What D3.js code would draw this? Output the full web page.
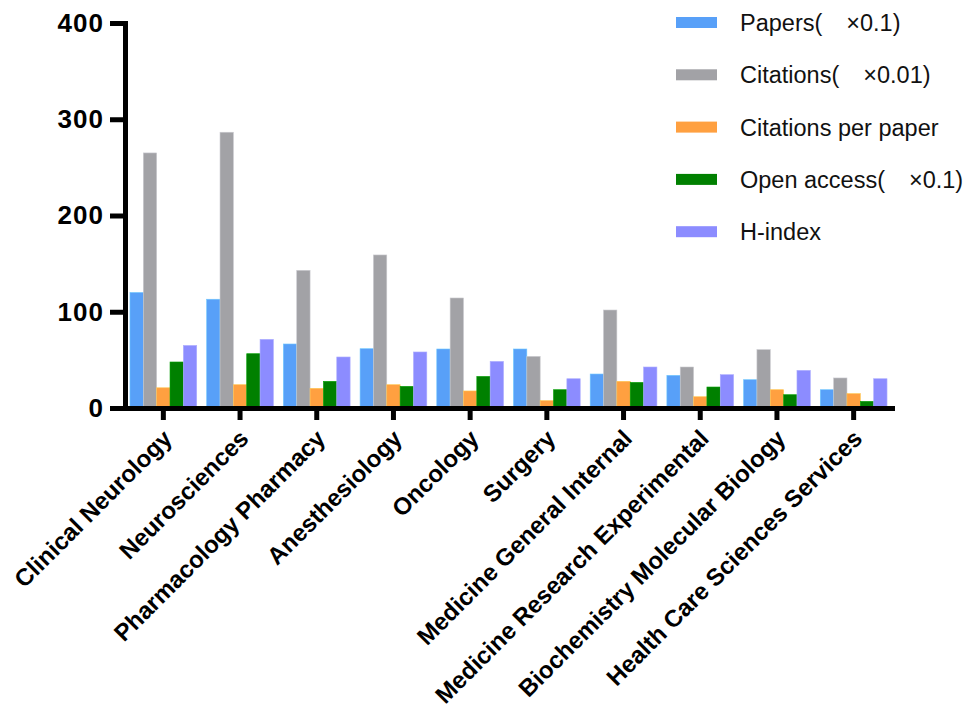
<!DOCTYPE html>
<html>
<head>
<meta charset="utf-8">
<script src="https://cdn.jsdelivr.net/npm/d3@7"></script>
<style>
  body { margin: 0; background: #fff; }
  svg text { font-family: "Liberation Sans", Arial, sans-serif; }
</style>
</head>
<body>
<div id="chart"></div>
<script>
// --- Data ---
const categories = [
    "Clinical Neurology", "Neurosciences", "Pharmacology Pharmacy", "Anesthesiology",
    "Oncology", "Surgery", "Medicine General Internal", "Medicine Research Experimental",
    "Biochemistry Molecular Biology", "Health Care Sciences Services"
];
const seriesNames = ["Papers(\u3000×0.1)", "Citations(\u3000×0.01)", "Citations per paper", "Open access(\u3000×0.1)", "H-index"];
const papers      = [120, 113, 66.5, 61.6, 61.3, 61.3, 35.3, 33.9, 29.4, 19];
const citations   = [265, 286.5, 143, 159, 114.3, 53.6, 101.8, 42.6, 60.6, 31.2];
const perPaper    = [21, 24.2, 20.4, 24.2, 17.7, 7.6, 27.7, 11.7, 19, 14.9];
const openAccess  = [47.8, 56.4, 27.7, 22.5, 32.8, 19, 26.6, 21.8, 13.8, 6.9];
const hIndex      = [65, 71.3, 53, 58.2, 48.4, 30.4, 42.6, 34.6, 39.1, 30.4];
const yTicks = [0, 100, 200, 300, 400];
const colors = ["#58a0f8", "#a2a2a6", "#ffa040", "#008000", "#8c8cff"];

const series = [papers, citations, perPaper, openAccess, hIndex];

const width = 971, height = 709;
const svg = d3.select("#chart").append("svg")
    .attr("width", width)
    .attr("height", height);

const x0 = d3.scaleBand().domain(categories).range([125, 892])
    .paddingInner(0.13).paddingOuter(0.065);
const x1 = d3.scaleBand().domain(d3.range(seriesNames.length)).range([0, x0.bandwidth()]);
const y = d3.scaleLinear().domain([0, 400]).range([408, 23]);

// bars
const groups = svg.append("g").selectAll("g")
    .data(categories)
    .enter().append("g")
    .attr("transform", d => `translate(${x0(d)},0)`);

groups.selectAll("rect")
    .data((d, i) => series.map((s, k) => ({ k: k, value: s[i] })))
    .enter().append("rect")
    .attr("x", d => x1(d.k))
    .attr("y", d => y(d.value))
    .attr("width", x1.bandwidth())
    .attr("height", d => y(0) - y(d.value))
    .attr("fill", d => colors[d.k])
    .attr("stroke", d => d3.color(colors[d.k]).brighter(0.6))
    .attr("stroke-width", 0.6);

// y axis
const yAxis = svg.append("g")
    .attr("transform", "translate(125,0)")
    .call(d3.axisLeft(y).tickValues(yTicks).tickSize(15).tickSizeOuter(0).tickPadding(6));
yAxis.select(".domain").attr("stroke-width", 5).attr("stroke-linecap", "square");
yAxis.selectAll(".tick line").attr("stroke-width", 5);
yAxis.selectAll(".tick text")
    .style("font-size", "26px")
    .style("font-weight", "bold")
    .style("letter-spacing", "1px")
    .attr("fill", "#000");

// x axis
const xAxis = svg.append("g")
    .attr("transform", "translate(0,408)")
    .call(d3.axisBottom(x0).tickSize(12).tickSizeOuter(0));
xAxis.select(".domain").attr("stroke-width", 5).attr("stroke-linecap", "square");
xAxis.selectAll(".tick line").attr("stroke-width", 5);
xAxis.selectAll(".tick text")
    .attr("text-anchor", "end")
    .attr("dy", null)
    .attr("y", 0)
    .attr("transform", "translate(10,32) rotate(-45)")
    .style("font-size", "24px")
    .style("font-weight", "bold")
    .attr("fill", "#000");

// legend
const legend = svg.append("g").selectAll("g")
    .data(seriesNames)
    .enter().append("g")
    .attr("transform", (d, i) => `translate(676,${23 + i * 52.3})`);

legend.append("rect")
    .attr("x", 0).attr("y", -6)
    .attr("width", 41).attr("height", 11)
    .attr("fill", (d, i) => colors[i]);

legend.append("text")
    .attr("x", 64).attr("y", 8)
    .style("font-size", "23.5px")
    .attr("fill", "#111")
    .text(d => d);
</script>
</body>
</html>
